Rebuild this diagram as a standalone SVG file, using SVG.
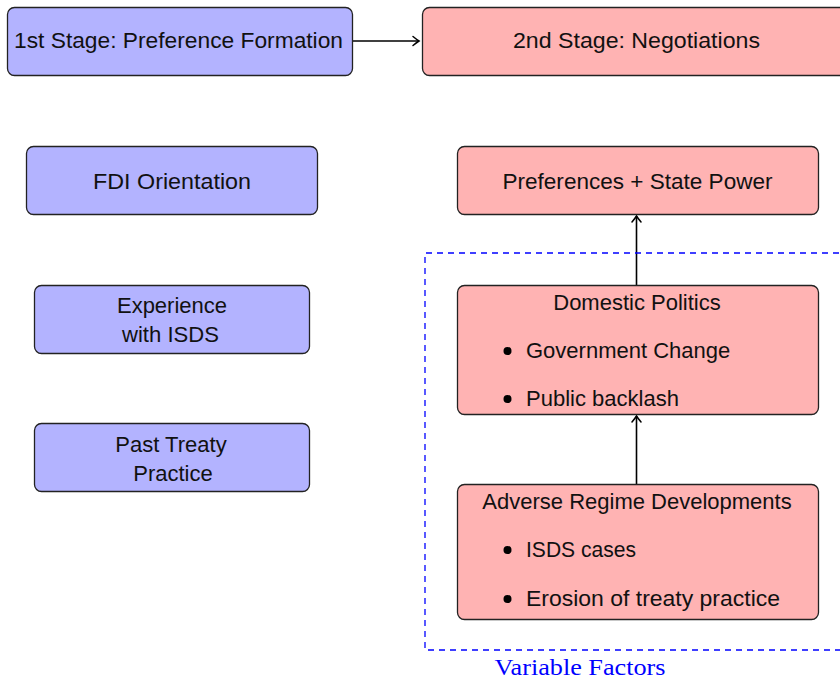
<svg xmlns="http://www.w3.org/2000/svg" width="840" height="680" viewBox="0 0 840 680">
<defs>
<marker id="arr" markerWidth="12" markerHeight="12" refX="0" refY="0" viewBox="-7 -6 9 12" orient="auto" markerUnits="userSpaceOnUse">
<path d="M -6 -4.5 Q -2 -1.2 0 0 Q -2 1.2 -6 4.5" fill="none" stroke="#000" stroke-width="1.5" stroke-linecap="round"/>
</marker>
<style>
.b{fill:#b3b3ff;stroke:#222;stroke-width:1.3}
.r{fill:#ffb3b3;stroke:#222;stroke-width:1.3}
text{font-family:"Liberation Sans",Arial,sans-serif;font-size:22px;fill:#111}
.c{text-anchor:middle}
.e{stroke:#000;stroke-width:1.6;fill:none}
</style>
</defs>
<g id="connectors">
<line class="e" x1="352" y1="41" x2="419" y2="41" marker-end="url(#arr)"/>
<line class="e" x1="636.5" y1="285" x2="636.5" y2="216" marker-end="url(#arr)"/>
<line class="e" x1="636.5" y1="484" x2="636.5" y2="416" marker-end="url(#arr)"/>
</g>
<g id="variable-factors">
<path d="M 850 253 H 425 V 650 H 850" fill="none" stroke="#0000ff" stroke-width="1.3" stroke-dasharray="6 5"/>
<text x="580" y="675" class="c" style="font-family:'Liberation Serif','Times New Roman',serif;font-size:23px;fill:#0000ff" textLength="171" lengthAdjust="spacingAndGlyphs">Variable Factors</text>
</g>
<g id="stage1">
<rect class="b" x="7.5" y="7.5" width="345" height="68" rx="7"/>
<text class="c" x="178.5" y="48" textLength="329" lengthAdjust="spacingAndGlyphs">1st Stage: Preference Formation</text>
</g>
<g id="stage2">
<rect class="r" x="422.5" y="7.5" width="444" height="68" rx="7"/>
<text class="c" x="636.5" y="48" textLength="247" lengthAdjust="spacingAndGlyphs">2nd Stage: Negotiations</text>
</g>
<g id="fdi">
<rect class="b" x="26.5" y="146.5" width="291" height="68" rx="7"/>
<text class="c" x="172" y="189" textLength="158" lengthAdjust="spacingAndGlyphs">FDI Orientation</text>
</g>
<g id="experience">
<rect class="b" x="34.5" y="285.5" width="275" height="68" rx="7"/>
<text class="c" x="172" y="313">Experience</text>
<text class="c" x="170.5" y="342" textLength="97" lengthAdjust="spacingAndGlyphs">with ISDS</text>
</g>
<g id="past">
<rect class="b" x="34.5" y="423.5" width="275" height="68" rx="7"/>
<text class="c" x="171" y="452">Past Treaty</text>
<text class="c" x="173" y="481">Practice</text>
</g>
<g id="preferences">
<rect class="r" x="457.5" y="146.5" width="361" height="68" rx="7"/>
<text class="c" x="637.5" y="189" textLength="270" lengthAdjust="spacingAndGlyphs">Preferences + State Power</text>
</g>
<g id="domestic">
<rect class="r" x="457.5" y="285.5" width="361" height="129" rx="7"/>
<text class="c" x="637" y="310">Domestic Politics</text>
<circle cx="507.5" cy="351" r="4"/>
<text x="526" y="358">Government Change</text>
<circle cx="507.5" cy="399" r="4"/>
<text x="526" y="406">Public backlash</text>
</g>
<g id="adverse">
<rect class="r" x="457.5" y="484.5" width="361" height="135" rx="7"/>
<text class="c" x="637" y="509">Adverse Regime Developments</text>
<circle cx="507.5" cy="550" r="4"/>
<text x="526" y="557" textLength="110" lengthAdjust="spacingAndGlyphs">ISDS cases</text>
<circle cx="507.5" cy="599" r="4"/>
<text x="526" y="606" textLength="254" lengthAdjust="spacingAndGlyphs">Erosion of treaty practice</text>
</g>
</svg>
